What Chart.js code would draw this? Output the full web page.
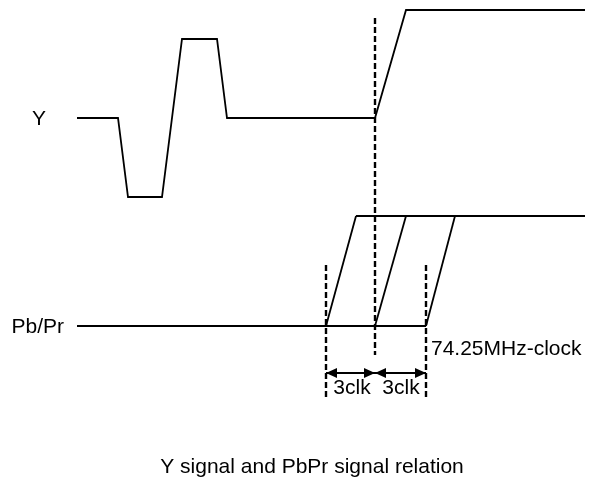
<!DOCTYPE html>
<html><head><meta charset="utf-8">
<script src="https://cdn.jsdelivr.net/npm/chart.js@4/dist/chart.umd.min.js"></script>
<style>html,body{margin:0;padding:0;background:#fff}canvas{display:block}</style>
</head><body>
<canvas id="c" width="600" height="495"></canvas>
<script>
// ---- data (time axis, signal level axis) ----
const yTimes   = [77, 118, 128, 162, 182, 217, 227, 375, 406, 585];
const yLevels  = [377, 377, 298, 298, 456, 456, 377, 377, 485, 485];

const pbLowTimes   = [77, 426];
const pbLowLevels  = [169, 169];
const pbHighTimes  = [356, 585];
const pbHighLevels = [279, 279];

const edgeStartTimes = [326, 375, 426];
const edgeEndTimes   = [356, 406, 455];
const edgeLowLevel  = 169;
const edgeHighLevel = 279;

const markerTimes  = [326, 375, 426];
const markerTops   = [230, 477, 230];
const markerBottoms= [98, 140, 98];

const arrowLevel = 122;
const arrowSpans = [[326, 375], [375, 426]];

const labelTexts  = ["Y", "Pb/Pr", "74.25MHz-clock", "3clk", "3clk", "Y signal and PbPr signal relation"];
const labelTimes  = [39, 64, 431, 352, 401, 312];
const labelLevels = [376, 168, 146, 107, 107, 28];
const labelAligns = ["center", "right", "left", "center", "center", "center"];

// ---- build datasets ----
const pts = (xs, ys) => xs.map((x, i) => ({x, y: ys[i]}));
const solid = {borderColor: '#000', borderWidth: 1.8, pointRadius: 0, fill: false, tension: 0};
const datasets = [];
datasets.push(Object.assign({label: 'Y', data: pts(yTimes, yLevels)}, solid));
datasets.push(Object.assign({label: 'PbLow', data: pts(pbLowTimes, pbLowLevels)}, solid));
datasets.push(Object.assign({label: 'PbHigh', data: pts(pbHighTimes, pbHighLevels)}, solid));
edgeStartTimes.forEach((t, i) => {
  datasets.push(Object.assign({label: 'edge' + i, data: [{x: t, y: edgeLowLevel}, {x: edgeEndTimes[i], y: edgeHighLevel}]}, solid));
});
markerTimes.forEach((t, i) => {
  datasets.push({label: 'marker' + i, data: [{x: t, y: markerTops[i]}, {x: t, y: markerBottoms[i]}],
    borderColor: '#000', borderWidth: 2.4, borderDash: [6, 3], pointRadius: 0, fill: false});
});
arrowSpans.forEach((s, i) => {
  datasets.push(Object.assign({label: 'arrow' + i, isArrow: true,
    data: [{x: s[0], y: arrowLevel}, {x: s[1], y: arrowLevel}]}, solid, {borderWidth: 2.2}));
});

const arrowPlugin = {
  id: 'arrows',
  afterDatasetsDraw(chart) {
    const ctx = chart.ctx, xs = chart.scales.x, ys = chart.scales.y;
    chart.data.datasets.forEach(ds => {
      if (!ds.isArrow) return;
      const a = ds.data[0], b = ds.data[1];
      const ax = xs.getPixelForValue(a.x), bx = xs.getPixelForValue(b.x), py = ys.getPixelForValue(a.y);
      const L = 11, H = 5;
      ctx.save(); ctx.fillStyle = '#000';
      ctx.beginPath(); ctx.moveTo(ax, py); ctx.lineTo(ax + L, py - H); ctx.lineTo(ax + L, py + H); ctx.closePath(); ctx.fill();
      ctx.beginPath(); ctx.moveTo(bx, py); ctx.lineTo(bx - L, py - H); ctx.lineTo(bx - L, py + H); ctx.closePath(); ctx.fill();
      ctx.restore();
    });
  }
};

const textPlugin = {
  id: 'texts',
  afterDraw(chart) {
    const ctx = chart.ctx, xs = chart.scales.x, ys = chart.scales.y;
    ctx.save();
    ctx.fillStyle = '#000';
    ctx.font = '21px "Liberation Sans", Arial, sans-serif';
    ctx.textBaseline = 'middle';
    labelTexts.forEach((t, i) => {
      ctx.textAlign = labelAligns[i];
      ctx.fillText(t, xs.getPixelForValue(labelTimes[i]), ys.getPixelForValue(labelLevels[i]));
    });
    ctx.restore();
  }
};

new Chart(document.getElementById('c'), {
  type: 'line',
  data: {datasets},
  options: {
    responsive: false, animation: false, events: [],
    layout: {padding: 0},
    plugins: {legend: {display: false}, tooltip: {enabled: false}, title: {display: false}},
    scales: {
      x: {type: 'linear', min: 0, max: 600, display: false},
      y: {type: 'linear', min: 0, max: 495, display: false}
    }
  },
  plugins: [arrowPlugin, textPlugin]
});
</script>
</body></html>
